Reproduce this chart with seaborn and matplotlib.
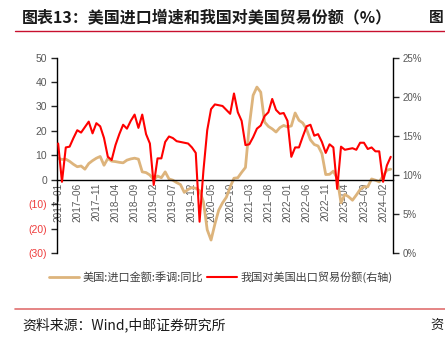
import matplotlib
matplotlib.use("Agg")
import matplotlib.pyplot as plt
from matplotlib.lines import Line2D
import seaborn as sns
import pandas as pd
import numpy as np

sns.set_style("white")
plt.rcParams['font.family'] = ['Noto Sans CJK SC', 'DejaVu Sans']

# Months 2017-01 .. 2024-04
months = pd.date_range("2017-01-01", "2024-04-01", freq="MS")

us_import_yoy = [8.7, 8.3, 8.4, 7.5, 6.3, 5.3, 5.6, 4.3, 6.6, 7.8, 8.8, 9.5,
                 5.9, 8.7, 7.6, 7.4, 7.1, 6.9, 8.0, 8.5, 8.8, 8.4, 3.2, 2.9,
                 1.9, 0.0, 1.5, 0.8, 3.2, 0.3, -0.2, -1.2, -2.0, -5.2, -4.0, -3.2,
                 -3.5, -4.5, -9.0, -20.5, -24.7, -18.2, -12.5, -9.5, -7.2, -3.0, 0.6, 0.8,
                 3.0, 5.0, 22.0, 34.5, 37.9, 35.8, 23.6, 21.8, 20.8, 19.5, 21.3, 22.2,
                 21.6, 22.0, 27.3, 24.3, 23.2, 20.6, 16.3, 14.4, 13.8, 10.7, 2.1, 2.2,
                 3.5, 0.5, -9.5, -6.0, -7.0, -8.4, -6.3, -4.0, -2.9, -2.9, 0.3, -0.2,
                 -0.9, 1.5, 3.9, 4.3]

cn_share_us = [14.0, 9.1, 13.5, 13.6, 14.7, 15.7, 15.4, 16.1, 16.8, 15.3, 16.6, 16.2,
               14.7, 12.3, 11.9, 13.8, 15.2, 16.4, 15.9, 16.9, 17.7, 16.0, 17.7, 15.2,
               14.0, 8.7, 12.1, 12.1, 14.2, 14.9, 14.7, 14.3, 14.2, 14.1, 14.0, 13.5,
               12.8, 4.0, 10.5, 15.7, 18.4, 19.0, 18.9, 18.8, 18.3, 17.8, 20.4, 18.0,
               16.9, 13.8, 13.9, 14.8, 15.9, 16.3, 17.5, 18.0, 19.7, 18.3, 17.8, 17.9,
               16.9, 12.3, 13.5, 13.5, 14.9, 16.2, 16.4, 15.0, 15.2, 14.2, 12.8, 13.9,
               13.5, 8.2, 13.6, 13.2, 13.3, 13.4, 13.2, 14.1, 14.1, 13.3, 13.5, 13.0,
               13.0, 9.1, 11.2, 12.3]

left_ticks = [-30, -20, -10, 0, 10, 20, 30, 40, 50]
left_labels = ["(30)", "(20)", "(10)", "0", "10", "20", "30", "40", "50"]
right_ticks = [0, 5, 10, 15, 20, 25]
right_labels = ["0%", "5%", "10%", "15%", "20%", "25%"]

series1_name = "美国:进口金额:季调:同比"
series2_name = "我国对美国出口贸易份额(右轴)"
title = "图表13：美国进口增速和我国对美国贸易份额（%）"
source = "资料来源：Wind,中邮证券研究所"

idx = np.arange(len(months))
df = pd.DataFrame({"m": idx, "imp": us_import_yoy, "share": cn_share_us})

W, H = 445, 339
fig = plt.figure(figsize=(W / 100, H / 100), dpi=100)
ax = fig.add_axes([57 / W, 1 - 253 / H, (393 - 57) / W, (253 - 57.5) / H])
ax.set_facecolor("none")

tan = "#DDB47C"
red = "#FF0000"
gray = "#595959"

sns.lineplot(data=df, x="m", y="imp", ax=ax, color=tan, lw=2.0, legend=False)
ax2 = ax.twinx()
sns.lineplot(data=df, x="m", y="share", ax=ax2, color=red, lw=1.5, legend=False)

ax.set_xlim(-0.3, 87.6)
ax.set_ylim(-30, 50)
ax2.set_ylim(0, 25)
ax.set_xlabel("")
ax.set_ylabel("")
ax2.set_ylabel("")

for s in ["top", "right"]:
    ax.spines[s].set_visible(False)
for s in ["top", "left", "bottom"]:
    ax2.spines[s].set_visible(False)
ax.spines["bottom"].set_position(("data", 0))
for sp in [ax.spines["left"], ax.spines["bottom"], ax2.spines["right"]]:
    sp.set_color("black")
    sp.set_linewidth(1.0)

xt = list(range(0, len(months), 5))
ax.set_xticks(xt)
ax.set_xticklabels([months[i].strftime("%Y–%m") for i in xt], rotation=90,
                   fontsize=7.2, color=gray, family=["Liberation Sans", "DejaVu Sans"])
ax.tick_params(axis="x", direction="in", length=4, width=1, pad=2, colors="black",
               labelcolor=gray)

ax.set_yticks(left_ticks)
ax.set_yticklabels(left_labels, fontsize=7.5, family=["Liberation Sans", "DejaVu Sans"])
ax.tick_params(axis="y", direction="out", length=4, width=1, pad=3)
for t, v in zip(ax.get_yticklabels(), left_ticks):
    t.set_color("#EE3B3B" if v < 0 else gray)

ax2.set_yticks(right_ticks)
ax2.set_yticklabels(right_labels, fontsize=7, color=gray,
                    family=["Liberation Sans", "DejaVu Sans"])
ax2.tick_params(axis="y", direction="out", length=4, width=1, pad=3)

# Title & rules
fig.text(22 / W, 1 - 17 / H, title, fontsize=11.5, weight="bold", va="center",
         ha="left", color="#1a1a1a")
fig.text(444 / W, 1 - 17 / H, "图", fontsize=10.5, weight="bold", va="center",
         ha="right", color="#1a1a1a")
fig.add_artist(Line2D([15 / W, 1], [1 - 31 / H] * 2, color="#C8102E", lw=1.0))
fig.add_artist(Line2D([15 / W, 1], [1 - 309 / H] * 2, color="#E07070", lw=1.2))
fig.text(22 / W, 1 - 325 / H, source, fontsize=10, va="center", ha="left",
         color="#1a1a1a")
fig.text(444 / W, 1 - 325 / H, "资", fontsize=9.5, va="center", ha="right",
         color="#1a1a1a")

handles = [Line2D([], [], color=tan, lw=2.0), Line2D([], [], color=red, lw=1.5)]
fig.legend(handles, [series1_name, series2_name], ncol=2, frameon=False,
           loc="center", bbox_to_anchor=(221 / W, 1 - 277 / H), fontsize=8,
           handlelength=2.7, handletextpad=0.35, columnspacing=0.3,
           labelcolor="#404040", borderaxespad=0, borderpad=0)

fig.savefig("out.png", dpi=100)
